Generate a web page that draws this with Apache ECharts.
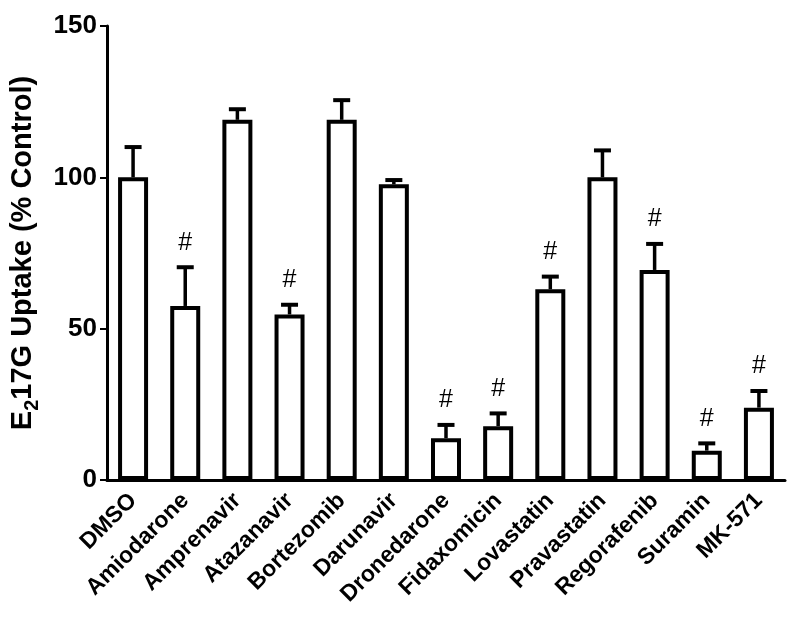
<!DOCTYPE html>
<html>
<head>
<meta charset="utf-8">
<script src="https://cdn.jsdelivr.net/npm/echarts@6/dist/echarts.min.js"></script>
<style>
  html, body { margin: 0; padding: 0; background: #fff; }
  #chart { width: 800px; height: 621px; }
</style>
</head>
<body>
<div id="chart"></div>
<script>
const drugs = ['DMSO', 'Amiodarone', 'Amprenavir', 'Atazanavir', 'Bortezomib', 'Darunavir',
  'Dronedarone', 'Fidaxomicin', 'Lovastatin', 'Pravastatin', 'Regorafenib', 'Suramin', 'MK-571'];
const uptake = [100, 57.5, 119, 54.7, 119, 97.7, 13.8, 17.8, 63, 100, 69.4, 9.7, 23.9];
const errUp = [10, 12.8, 3.5, 3.2, 6.5, 1.4, 4.4, 4.2, 4.2, 8.9, 8.6, 2.4, 5.5];
const sig = [0, 1, 0, 1, 0, 0, 1, 1, 1, 0, 1, 1, 1];
const yTicks = [0, 50, 100, 150];

const font = 'Liberation Sans, Arial, sans-serif';

const errData = drugs.map((d, i) => [i, uptake[i], uptake[i] + errUp[i], sig[i]]);

const chart = echarts.init(document.getElementById('chart'), null, { renderer: 'canvas' });

chart.setOption({
  backgroundColor: '#fff',
  animation: false,
  grid: { left: 107, right: 15, top: 26, bottom: 141 },
  xAxis: {
    type: 'category',
    data: drugs,
    axisLine: { lineStyle: { color: '#000', width: 3 } },
    axisTick: { alignWithLabel: true, length: 6, lineStyle: { color: '#000', width: 2 } },
    axisLabel: {
      rotate: 45, interval: 0, margin: 17,
      color: '#000', fontFamily: font, fontWeight: 'bold', fontSize: 23
    }
  },
  yAxis: {
    type: 'value',
    min: yTicks[0], max: yTicks[yTicks.length - 1], interval: 50,
    splitLine: { show: false },
    axisLine: { show: true, lineStyle: { color: '#000', width: 3 } },
    axisTick: { show: true, length: 7, lineStyle: { color: '#000', width: 2 } },
    axisLabel: { color: '#000', fontFamily: font, fontWeight: 'bold', fontSize: 26, margin: 10 },
    name: '{t|E}{s|2}{t|17G Uptake (% Control)}',
    nameLocation: 'middle',
    nameRotate: 90,
    nameGap: 66,
    nameTextStyle: {
      rich: {
        t: { fontFamily: font, fontWeight: 'bold', fontSize: 29, color: '#000', lineHeight: 34, verticalAlign: 'bottom' },
        s: { fontFamily: font, fontWeight: 'bold', fontSize: 20, color: '#000', lineHeight: 34, verticalAlign: 'bottom', padding: [0, 0, -5, 0] }
      }
    }
  },
  series: [
    {
      type: 'bar',
      data: uptake,
      barWidth: 30,
      itemStyle: { color: '#fff', borderColor: '#000', borderWidth: 4 },
      z: 2
    },
    {
      type: 'custom',
      data: errData,
      z: 3,
      renderItem: function (params, api) {
        const i = api.value(0);
        const top = api.coord([i, api.value(1)]);
        const hi = api.coord([i, api.value(2)]);
        const half = 8.5;
        const children = [
          { type: 'line', shape: { x1: top[0], y1: top[1], x2: hi[0], y2: hi[1] },
            style: { stroke: '#000', lineWidth: 3.5 } },
          { type: 'line', shape: { x1: hi[0] - half, y1: hi[1], x2: hi[0] + half, y2: hi[1] },
            style: { stroke: '#000', lineWidth: 4 } }
        ];
        if (api.value(3)) {
          children.push({
            type: 'text',
            style: {
              x: hi[0], y: hi[1] - 12, text: '#',
              align: 'center', verticalAlign: 'bottom',
              font: 'normal 25px ' + font, fill: '#000'
            }
          });
        }
        return { type: 'group', children: children };
      }
    }
  ]
});
</script>
</body>
</html>
